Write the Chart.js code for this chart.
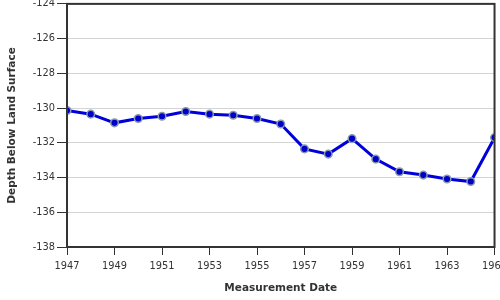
<!DOCTYPE html>
<html>
<head>
<meta charset="utf-8">
<script src="https://cdn.jsdelivr.net/npm/chart.js@4"></script>
<style>
  body { margin: 0; background: #fff; }
  #wrap { width: 500px; height: 300px; overflow: hidden; position: relative; }
  canvas { display: block; margin-top: -4px; }
</style>
</head>
<body>
<div id="wrap"><canvas id="chart" width="513" height="304"></canvas></div>
<script>
// measurement years and depth below land surface (ft)
const years = [1947, 1948, 1949, 1950, 1951, 1952, 1953, 1954, 1955, 1956,
               1957, 1958, 1959, 1960, 1961, 1962, 1963, 1964, 1965];
const depths = [-130.14, -130.35, -130.85, -130.6, -130.47, -130.2, -130.35, -130.41, -130.6, -130.92,
                -132.35, -132.65, -131.76, -132.94, -133.67, -133.86, -134.08, -134.23, -131.7];

const yMin = -138, yMax = -124, yStep = 2;
const xMin = 1947, xMax = 1965, xStep = 2;

const frameColor = '#333';
const tickFont = { family: 'DejaVu Sans', size: 9.8 };
const titleFont = { family: 'DejaVu Sans', size: 10.5, weight: 'bold' };

// box around the plot area (top and right edges)
const frame = {
    id: 'frame',
    afterDraw(chart) {
        const { ctx, chartArea: a } = chart;
        ctx.save();
        ctx.strokeStyle = frameColor;
        ctx.lineWidth = 2;
        ctx.strokeRect(a.left, a.top, a.right - a.left, a.bottom - a.top);
        ctx.restore();
    }
};

new Chart(document.getElementById('chart').getContext('2d'), {
    type: 'line',
    data: {
        datasets: [{
            data: years.map((y, i) => ({ x: y, y: depths[i] })),
            borderColor: '#0000dd',
            borderWidth: 3,
            pointRadius: 3.8,
            pointBackgroundColor: '#0000cc',
            pointBorderColor: '#8a9aa6',
            pointBorderWidth: 1.5,
            tension: 0,
        }],
    },
    options: {
        responsive: false,
        animation: false,
        layout: { padding: 0 },
        plugins: { legend: { display: false }, tooltip: { enabled: false } },
        scales: {
            x: {
                type: 'linear',
                min: xMin,
                max: xMax,
                afterFit: (s) => { s.height = 53; },
                ticks: { stepSize: xStep, color: '#333', font: tickFont, padding: 6, maxRotation: 0,
                         callback: (v) => String(v) },
                grid: { drawOnChartArea: false, tickColor: frameColor, tickLength: 8, tickWidth: 1 },
                border: { color: frameColor, width: 2 },
                title: { display: true, text: 'Measurement Date', color: '#333', font: titleFont, padding: { top: 0, bottom: 5 } },
            },
            y: {
                min: yMin,
                max: yMax,
                afterFit: (s) => { s.width = 67; },
                ticks: { stepSize: yStep, color: '#333', font: tickFont, padding: 2 },
                grid: { color: '#d4d4d4', tickColor: frameColor, tickLength: 10, lineWidth: 1 },
                border: { color: frameColor, width: 2 },
                title: { display: true, text: 'Depth Below Land Surface', color: '#333', font: titleFont, padding: { top: 6, bottom: 0 } },
            },
        },
    },
    plugins: [frame],
});
</script>
</body>
</html>
